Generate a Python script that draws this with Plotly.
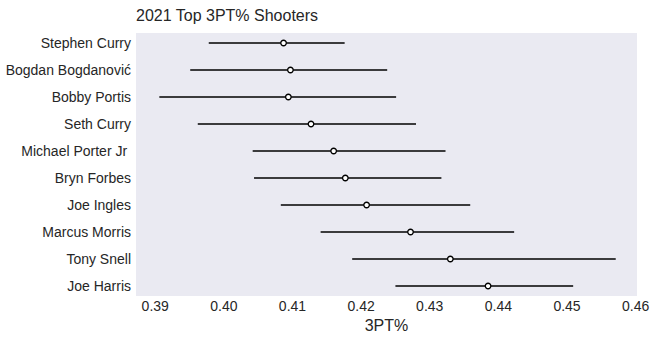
import plotly.graph_objects as go

players = ["Stephen Curry", "Bogdan Bogdanović", "Bobby Portis", "Seth Curry",
           "Michael Porter Jr ", "Bryn Forbes", "Joe Ingles", "Marcus Morris",
           "Tony Snell", "Joe Harris"]
pct = [0.4087, 0.4097, 0.4094, 0.4127, 0.4160, 0.4177, 0.4208, 0.4272, 0.4330, 0.4385]
low = [0.3978, 0.3951, 0.3906, 0.3962, 0.4042, 0.4044, 0.4083, 0.4141, 0.4187, 0.4250]
high = [0.4176, 0.4238, 0.4251, 0.4280, 0.4323, 0.4317, 0.4359, 0.4423, 0.4571, 0.4509]
xticks = [0.39, 0.40, 0.41, 0.42, 0.43, 0.44, 0.45, 0.46]

ypos = list(range(len(players)))
fig = go.Figure()
fig.add_trace(go.Scatter(
    x=pct, y=ypos, mode="markers",
    marker=dict(size=5.5, color="white", line=dict(color="black", width=1.3)),
    error_x=dict(type="data", symmetric=False,
                 array=[h - p for h, p in zip(high, pct)],
                 arrayminus=[p - l for p, l in zip(pct, low)],
                 color="black", thickness=1.4, width=0),
    showlegend=False,
))
font = "Liberation Sans, Arial, sans-serif"
fig.update_layout(
    width=658, height=340,
    margin=dict(l=136, r=21, t=33, b=44),
    paper_bgcolor="white", plot_bgcolor="#EAEAF2",
    title=dict(text="2021 Top 3PT% Shooters", x=136/658, xanchor="left",
               y=1 - 15/340, yanchor="middle",
               font=dict(family=font, size=16, color="#262626")),
    font=dict(family=font, size=14, color="#262626"),
    xaxis=dict(range=[0.3872, 0.4602], tickvals=xticks,
               ticktext=[f"{t:.2f}" for t in xticks],
               showgrid=False, zeroline=False, showline=False, automargin=False,
               ticks="", tickfont=dict(size=14, color="#262626"),
               title=dict(text="3PT%", font=dict(size=16, color="#262626"), standoff=6)),
    yaxis=dict(range=[9.37, -0.37], tickvals=ypos, ticktext=players,
               showgrid=False, zeroline=False, showline=False, ticks="",
               automargin=False, ticklabelstandoff=4,
               tickfont=dict(size=14, color="#262626")),
)
fig.write_html("out.html")
